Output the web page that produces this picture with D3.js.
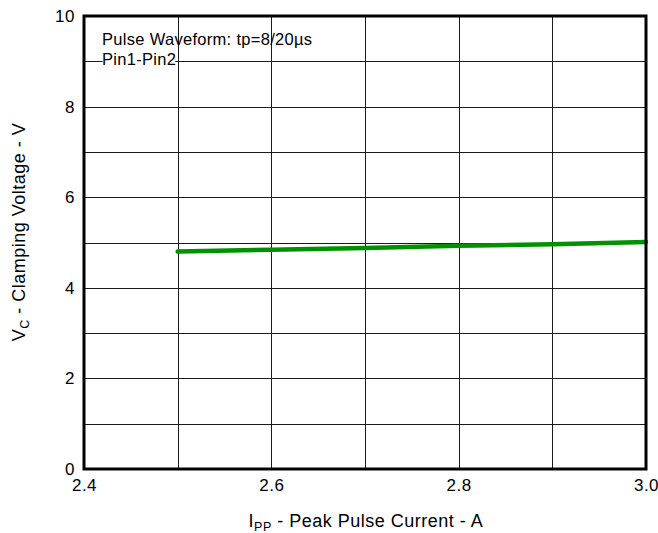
<!DOCTYPE html>
<html><head><meta charset="utf-8">
<script src="https://cdn.jsdelivr.net/npm/d3@7"></script>
<style>body{margin:0;background:#fff}svg{display:block}text{font-family:"Liberation Sans",Arial,sans-serif}</style>
</head><body>
<svg id="c" width="658" height="533"></svg>
<script>
const current = [2.5, 2.6, 2.7, 2.8, 2.9, 3.0];
const clampV = [4.80, 4.84, 4.88, 4.93, 4.96, 5.01];
const xTicks = [2.4, 2.6, 2.8, 3.0];
const xGrid = [2.5, 2.6, 2.7, 2.8, 2.9];
const yTicks = [0, 2, 4, 6, 8, 10];
const yGrid = [1, 2, 3, 4, 5, 6, 7, 8, 9];
const notes = ["Pulse Waveform: tp=8/20µs", "Pin1-Pin2"];

const svg = d3.select("#c");
const L = 84, R = 646, T = 16, B = 469;
const x = d3.scaleLinear().domain([2.4, 3.0]).range([L, R]);
const y = d3.scaleLinear().domain([0, 10]).range([B, T]);

const g = svg.append("g");
g.selectAll(".vg").data(xGrid).enter().append("line")
  .attr("x1", d => Math.round(x(d)) + 0.5).attr("x2", d => Math.round(x(d)) + 0.5)
  .attr("y1", T).attr("y2", B).attr("stroke", "#1a1a1a").attr("stroke-width", 1);
g.selectAll(".hg").data(yGrid).enter().append("line")
  .attr("y1", d => Math.round(y(d)) + 0.5).attr("y2", d => Math.round(y(d)) + 0.5)
  .attr("x1", L).attr("x2", R).attr("stroke", "#1a1a1a").attr("stroke-width", 1);

// notes
notes.forEach((t, i) => {
  const tx = svg.append("text").attr("x", 102).attr("y", 45 + i * 20).attr("font-size", 16.5)
    .attr("letter-spacing", 0.3).attr("fill", "#000").text(t);
  if (i === 1) {
    const bb = tx.node().getBBox();
    svg.insert("rect", "text").attr("x", bb.x + 0.5).attr("y", bb.y + 2)
      .attr("width", bb.width - 1.5).attr("height", bb.height - 4).attr("fill", "#fff");
  }
});

// line
svg.append("path").datum(current.map((c, i) => [c, clampV[i]]))
  .attr("d", d3.line().x(d => x(d[0])).y(d => y(d[1])))
  .attr("fill", "none").attr("stroke", "#009100").attr("stroke-width", 4.5)
  .attr("stroke-linecap", "round");

// frame
svg.append("rect").attr("x", L).attr("y", T).attr("width", R - L).attr("height", B - T)
  .attr("fill", "none").attr("stroke", "#000").attr("stroke-width", 3);

// axes labels
const xa = svg.append("g").attr("transform", `translate(0,${B})`)
  .call(d3.axisBottom(x).tickValues(xTicks).tickSize(0).tickPadding(7).tickFormat(d3.format(".1f")));
xa.select(".domain").remove();
xa.selectAll("text").attr("font-size", 17).attr("letter-spacing", 0.5).attr("fill", "#000").attr("dy", "0.9em");
const ya = svg.append("g").attr("transform", `translate(${L},0)`)
  .call(d3.axisLeft(y).tickValues(yTicks).tickSize(0).tickPadding(9).tickFormat(d3.format("d")));
ya.select(".domain").remove();
ya.selectAll("text").attr("font-size", 17).attr("letter-spacing", 0.5).attr("fill", "#000");
ya.selectAll(".tick text").attr("dy", "0.32em");

// axis titles
const xt = svg.append("text").attr("x", 366).attr("y", 527).attr("text-anchor", "middle")
  .attr("font-size", 18).attr("letter-spacing", 0.5).attr("fill", "#000");
xt.append("tspan").text("I");
xt.append("tspan").attr("font-size", 12.5).attr("dy", 4).text("PP");
xt.append("tspan").attr("dy", -4).text(" - Peak Pulse Current - A");

const yt = svg.append("text").attr("transform", `translate(25,${232}) rotate(-90)`)
  .attr("text-anchor", "middle").attr("font-size", 18).attr("letter-spacing", 0.5).attr("fill", "#000");
yt.append("tspan").text("V");
yt.append("tspan").attr("font-size", 12.5).attr("dy", 4).text("C");
yt.append("tspan").attr("dy", -4).text(" - Clamping Voltage - V");
</script>
</body></html>
